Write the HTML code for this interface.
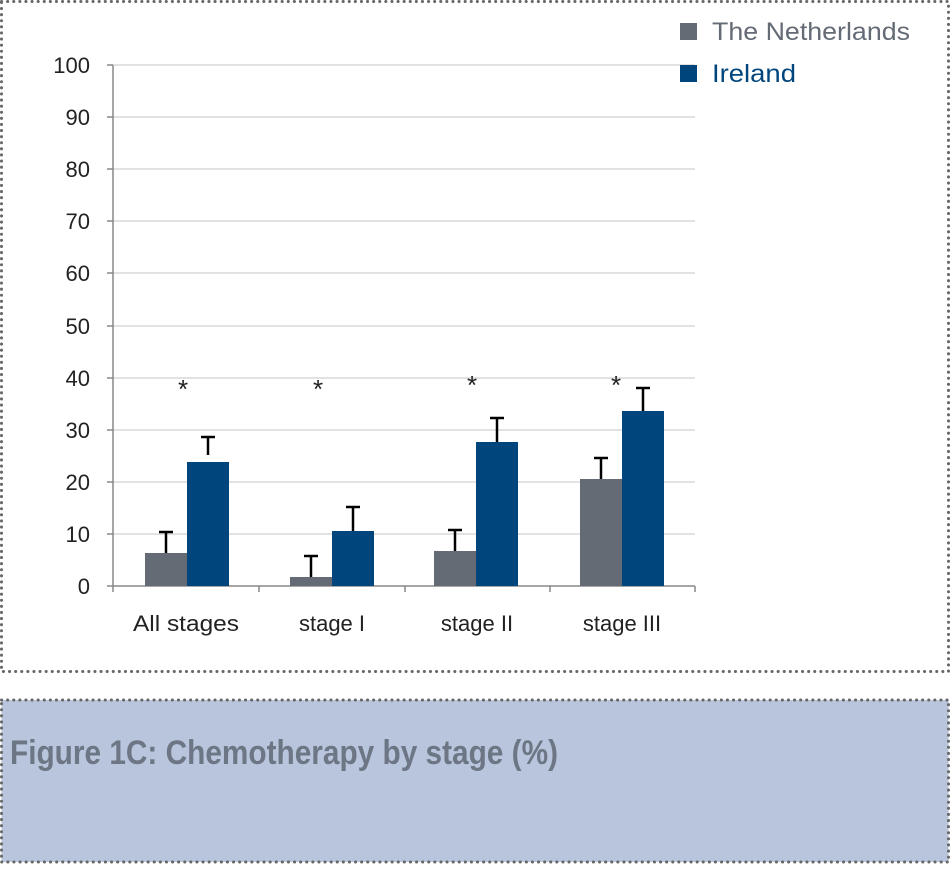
<!DOCTYPE html>
<html><head><meta charset="utf-8"><style>
body{margin:0;background:#fff;width:950px;height:865px;overflow:hidden}
</style></head><body>
<svg width="950" height="865" xmlns="http://www.w3.org/2000/svg" font-family="Liberation Sans, sans-serif">
<rect x="1.5" y="1.5" width="947" height="670" fill="none" stroke="#666" stroke-width="3" stroke-dasharray="0.1,6" stroke-linecap="round"/>
<rect x="1.5" y="700" width="947" height="162" fill="#b9c5dd" stroke="#666" stroke-width="3" stroke-dasharray="0.1,6" stroke-linecap="round"/>
<text x="10" y="764" font-size="34" font-weight="bold" fill="#6c7684" textLength="548" lengthAdjust="spacingAndGlyphs">Figure 1C: Chemotherapy by stage (%)</text>
<g stroke="#d9d9d9" stroke-width="1.5">
<line x1="113" x2="695" y1="65" y2="65"/><line x1="113" x2="695" y1="117" y2="117"/><line x1="113" x2="695" y1="169" y2="169"/><line x1="113" x2="695" y1="221" y2="221"/><line x1="113" x2="695" y1="273" y2="273"/><line x1="113" x2="695" y1="326" y2="326"/><line x1="113" x2="695" y1="378" y2="378"/><line x1="113" x2="695" y1="430" y2="430"/><line x1="113" x2="695" y1="482" y2="482"/><line x1="113" x2="695" y1="534" y2="534"/>
</g>
<g stroke="#888" stroke-width="1.5">
<line x1="113" x2="113" y1="65" y2="592"/><line x1="107" x2="695" y1="586" y2="586"/>
<line x1="259" x2="259" y1="586" y2="592"/><line x1="405" x2="405" y1="586" y2="592"/><line x1="550" x2="550" y1="586" y2="592"/><line x1="695" x2="695" y1="586" y2="592"/>
<line x1="107" x2="113" y1="65" y2="65"/><line x1="107" x2="113" y1="117" y2="117"/><line x1="107" x2="113" y1="169" y2="169"/><line x1="107" x2="113" y1="221" y2="221"/><line x1="107" x2="113" y1="273" y2="273"/><line x1="107" x2="113" y1="326" y2="326"/><line x1="107" x2="113" y1="378" y2="378"/><line x1="107" x2="113" y1="430" y2="430"/><line x1="107" x2="113" y1="482" y2="482"/><line x1="107" x2="113" y1="534" y2="534"/>
</g>
<g font-size="22" fill="#222" text-anchor="end">
<text x="90" y="73">100</text><text x="90" y="125">90</text><text x="90" y="177">80</text><text x="90" y="229">70</text><text x="90" y="281">60</text><text x="90" y="334">50</text><text x="90" y="386">40</text><text x="90" y="438">30</text><text x="90" y="490">20</text><text x="90" y="542">10</text><text x="90" y="594">0</text>
</g>
<g font-size="22" fill="#222" text-anchor="middle">
<text x="186" y="631" textLength="106" lengthAdjust="spacingAndGlyphs">All stages</text><text x="332" y="631">stage I</text><text x="477" y="631">stage II</text><text x="622" y="631">stage III</text>
</g>
<g stroke="#000" stroke-width="2.5">
<line x1="166" x2="166" y1="553" y2="532"/><line x1="159" x2="173" y1="532" y2="532"/>
<line x1="208" x2="208" y1="455" y2="437"/><line x1="201" x2="215" y1="437" y2="437"/>
<line x1="311" x2="311" y1="577" y2="556"/><line x1="304" x2="318" y1="556" y2="556"/>
<line x1="353" x2="353" y1="531" y2="507"/><line x1="346" x2="360" y1="507" y2="507"/>
<line x1="455" x2="455" y1="551" y2="530"/><line x1="448" x2="462" y1="530" y2="530"/>
<line x1="497" x2="497" y1="442" y2="418"/><line x1="490" x2="504" y1="418" y2="418"/>
<line x1="601" x2="601" y1="479" y2="458"/><line x1="594" x2="608" y1="458" y2="458"/>
<line x1="643" x2="643" y1="411" y2="388"/><line x1="636" x2="650" y1="388" y2="388"/>
</g>
<g fill="#646b75">
<rect x="145" y="553" width="42" height="33"/><rect x="290" y="577" width="42" height="9"/><rect x="434" y="551" width="42" height="35"/><rect x="580" y="479" width="42" height="107"/>
</g>
<g fill="#00457c">
<rect x="187" y="462" width="42" height="124"/><rect x="332" y="531" width="42" height="55"/><rect x="476" y="442" width="42" height="144"/><rect x="622" y="411" width="42" height="175"/>
</g>
<g font-size="26" fill="#222" text-anchor="middle">
<text x="183" y="398">*</text><text x="318" y="398">*</text><text x="472" y="394">*</text><text x="616" y="394">*</text>
</g>
<rect x="680" y="23" width="17" height="17" fill="#646b75"/>
<rect x="680" y="65" width="17" height="17" fill="#00457c"/>
<text x="712" y="40" font-size="25" fill="#646b75" textLength="198" lengthAdjust="spacingAndGlyphs">The Netherlands</text>
<text x="712" y="82" font-size="25" fill="#00457c" textLength="84" lengthAdjust="spacingAndGlyphs">Ireland</text>
</svg>
</body></html>
